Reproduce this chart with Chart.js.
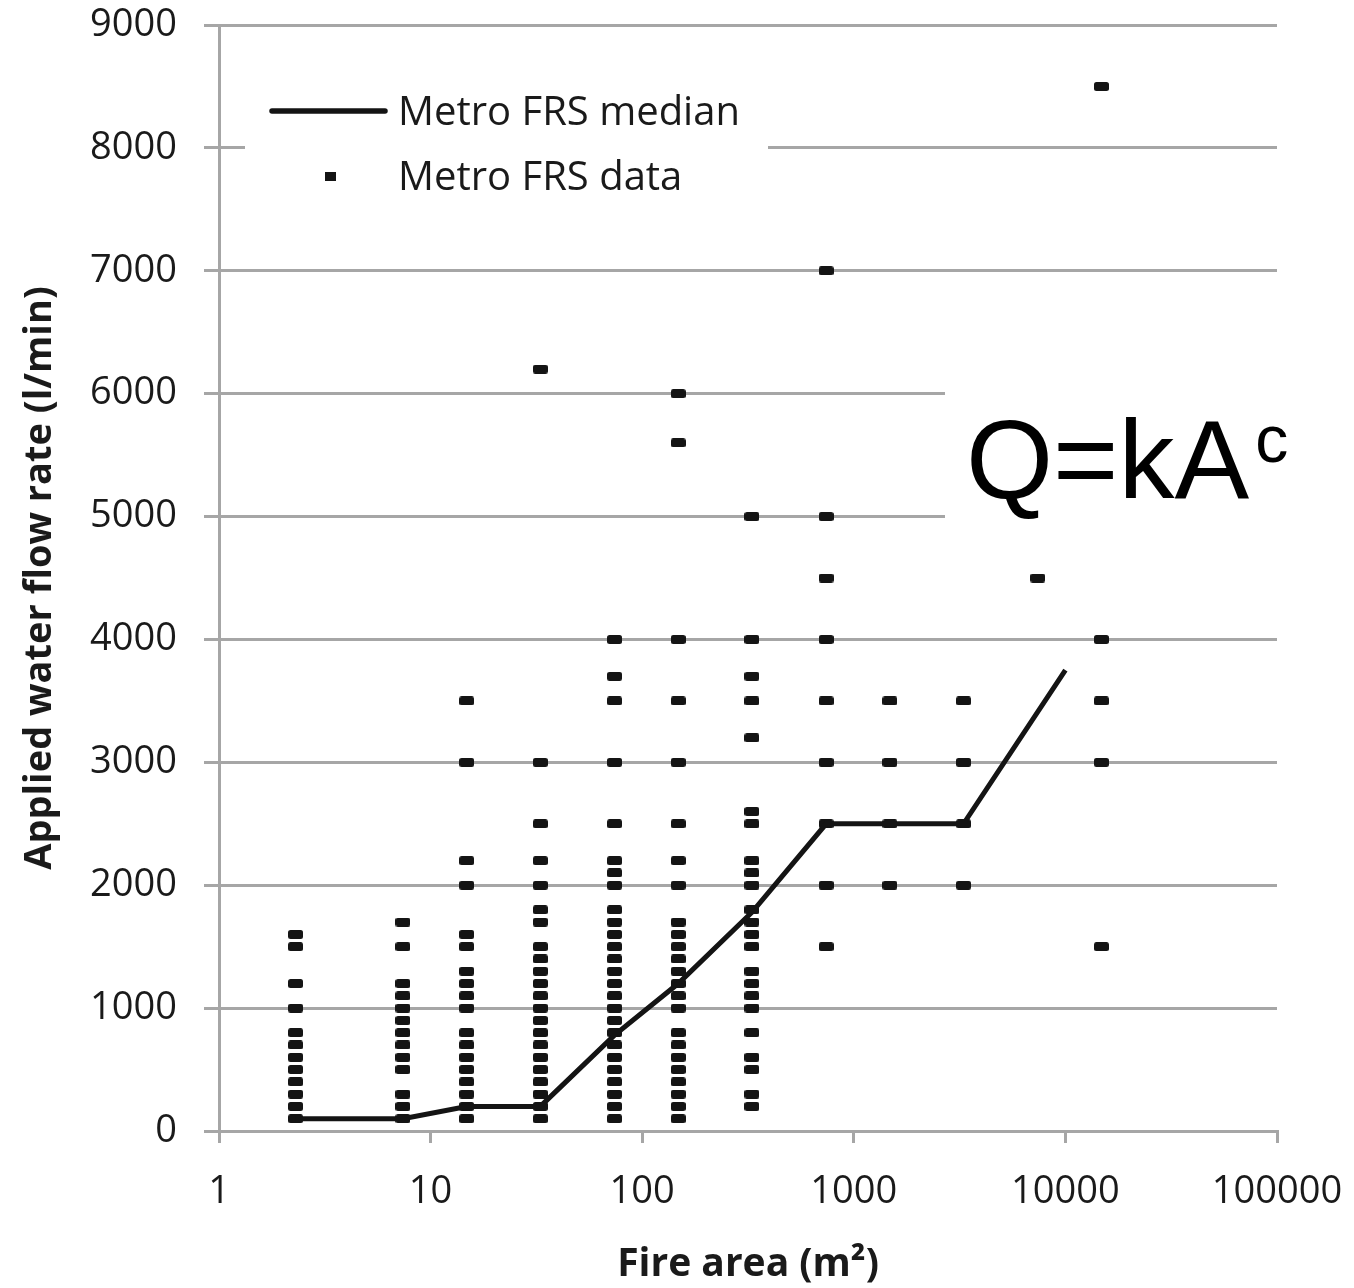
<!DOCTYPE html>
<html>
<head>
<meta charset="utf-8">
<title>Applied water flow rate vs fire area</title>
<script src="https://cdn.jsdelivr.net/npm/chart.js@4.4.1/dist/chart.umd.min.js"></script>
<style>
    html, body { margin: 0; padding: 0; background: #ffffff; }
    canvas { display: block; }
</style>
</head>
<body>
<canvas id="flowChart" width="1354" height="1288"></canvas>
<script>
// Fire area classes (m2), one column of points for each
const areaBins = [2.3, 7.4, 14.8, 33, 74, 148, 330, 740, 1480, 3300, 7400, 14800];

// Applied water flow rates (l/min) recorded in each area class
const flowsBin1 = [100, 200, 300, 400, 500, 600, 700, 800, 1000, 1200, 1500, 1600];
const flowsBin2 = [100, 200, 300, 500, 600, 700, 800, 900, 1000, 1100, 1200, 1500, 1700];
const flowsBin3 = [100, 200, 300, 400, 500, 600, 700, 800, 1000, 1100, 1200, 1300, 1500, 1600, 2000, 2200, 3000, 3500];
const flowsBin4 = [100, 200, 300, 400, 500, 600, 700, 800, 900, 1000, 1100, 1200, 1300, 1400, 1500, 1700, 1800, 2000, 2200, 2500, 3000, 6200];
const flowsBin5 = [100, 200, 300, 400, 500, 600, 700, 800, 900, 1000, 1100, 1200, 1300, 1400, 1500, 1600, 1700, 1800, 2000, 2100, 2200, 2500, 3000, 3500, 3700, 4000];
const flowsBin6 = [100, 200, 300, 400, 500, 600, 700, 800, 1000, 1100, 1200, 1300, 1400, 1500, 1600, 1700, 2000, 2200, 2500, 3000, 3500, 4000, 5600, 6000];
const flowsBin7 = [200, 300, 500, 600, 800, 1000, 1100, 1200, 1300, 1500, 1600, 1700, 1800, 2000, 2100, 2200, 2500, 2600, 3200, 3500, 3700, 4000, 5000];
const flowsBin8 = [1500, 2000, 2500, 3000, 3500, 4000, 4500, 5000, 7000];
const flowsBin9 = [2000, 2500, 3000, 3500];
const flowsBin10 = [2000, 2500, 3000, 3500];
const flowsBin11 = [4500];
const flowsBin12 = [1500, 3000, 3500, 4000, 8500];
const flowsByBin = [flowsBin1, flowsBin2, flowsBin3, flowsBin4, flowsBin5, flowsBin6,
    flowsBin7, flowsBin8, flowsBin9, flowsBin10, flowsBin11, flowsBin12];

// Median line
const medianAreas = [2.3, 7.4, 14.8, 33, 74, 148, 330, 740, 1480, 3300, 10000];
const medianFlows = [100, 100, 200, 200, 780, 1200, 1780, 2500, 2500, 2500, 3750];

// Axis ticks
const xTickValues = [1, 10, 100, 1000, 10000, 100000];
const yMin = 0;
const yMax = 9000;
const yStep = 1000;

const fontFamily = '"Open Sans", "Noto Sans", sans-serif';
const textColor = '#1a1a1a';
const gridColor = '#a6a6a6';
const markColor = '#141414';

// small rounded dash used as the data marker
function makeDash(w, h) {
    const c = document.createElement('canvas');
    c.width = w;
    c.height = h;
    const g = c.getContext('2d');
    g.fillStyle = markColor;
    g.beginPath();
    if (g.roundRect) {
        g.roundRect(0, 0, w, h, 2.5);
    } else {
        g.rect(0, 0, w, h);
    }
    g.fill();
    return c;
}

const dataPoints = [];
areaBins.forEach((area, i) => {
    flowsByBin[i].forEach(q => dataPoints.push({ x: area, y: q }));
});
const medianPoints = medianAreas.map((a, i) => ({ x: a, y: medianFlows[i] }));

// keep the plot area where the layout padding puts it
function noLabelPadding(scale) {
    scale.paddingTop = 0;
    scale.paddingBottom = 0;
    scale.paddingLeft = 0;
    scale.paddingRight = 0;
}

// white boxes behind legend and formula, then legend and formula text
const overlayPlugin = {
    id: 'overlay',
    beforeDatasetsDraw(chart) {
        const { ctx, chartArea } = chart;
        ctx.save();
        ctx.fillStyle = '#ffffff';
        ctx.fillRect(chartArea.left + 26, chartArea.top + 35, 523, 155);
        ctx.fillRect(945, chartArea.top + 305, 409, 230);
        ctx.restore();
    },
    afterDraw(chart) {
        const { ctx, chartArea } = chart;
        const left = chartArea.left;
        const top = chartArea.top;
        ctx.save();

        // legend
        ctx.strokeStyle = markColor;
        ctx.lineWidth = 5.5;
        ctx.lineCap = 'round';
        ctx.beginPath();
        ctx.moveTo(left + 53, top + 86);
        ctx.lineTo(left + 166, top + 86);
        ctx.stroke();
        ctx.fillStyle = markColor;
        ctx.fillRect(left + 106, top + 147, 11, 9);

        ctx.fillStyle = textColor;
        ctx.font = '40px ' + fontFamily;
        ctx.textAlign = 'left';
        ctx.textBaseline = 'alphabetic';
        ctx.fillText('Metro FRS median', left + 179, top + 100);
        ctx.fillText('Metro FRS data', left + 179, top + 165);

        // formula
        ctx.fillStyle = '#000000';
        ctx.font = '112px "Liberation Sans", Arial, sans-serif';
        const base = 'Q=kA';
        ctx.fillText(base, 966, 498);
        const w = ctx.measureText(base).width;
        ctx.font = '66px "Liberation Sans", Arial, sans-serif';
        ctx.fillText('c', 966 + w + 6, 462);

        ctx.restore();
    }
};

const ctx = document.getElementById('flowChart');

new Chart(ctx, {
    type: 'scatter',
    data: {
        datasets: [
            {
                label: 'Metro FRS median',
                data: medianPoints,
                showLine: true,
                borderColor: markColor,
                backgroundColor: markColor,
                borderWidth: 5,
                pointRadius: 0,
                tension: 0,
                order: 0
            },
            {
                label: 'Metro FRS data',
                data: dataPoints,
                pointStyle: makeDash(15, 9),
                pointRadius: 7,
                order: 1
            }
        ]
    },
    options: {
        responsive: false,
        animation: false,
        devicePixelRatio: 1,
        events: [],
        layout: {
            padding: { left: 0, top: 25, right: 77, bottom: 0 }
        },
        plugins: {
            legend: { display: false },
            tooltip: { enabled: false }
        },
        scales: {
            x: {
                type: 'logarithmic',
                min: xTickValues[0],
                max: xTickValues[xTickValues.length - 1],
                afterBuildTicks: scale => {
                    scale.ticks = xTickValues.map(v => ({ value: v }));
                },
                afterFit: scale => {
                    scale.height = 157;
                    noLabelPadding(scale);
                },
                grid: {
                    drawOnChartArea: false,
                    drawTicks: true,
                    tickLength: 12,
                    color: gridColor,
                    lineWidth: 3
                },
                border: { color: gridColor, width: 3 },
                ticks: {
                    autoSkip: false,
                    maxRotation: 0,
                    padding: 26,
                    color: textColor,
                    font: { family: fontFamily, size: 38 },
                    callback: value => String(value)
                },
                title: {
                    display: true,
                    text: 'Fire area (m²)',
                    color: textColor,
                    font: { family: fontFamily, size: 39, weight: 'bold' },
                    padding: { top: 0, bottom: 0 }
                }
            },
            y: {
                min: yMin,
                max: yMax,
                afterFit: scale => {
                    scale.width = 219;
                    noLabelPadding(scale);
                },
                grid: {
                    color: gridColor,
                    lineWidth: 3,
                    drawTicks: true,
                    tickLength: 15
                },
                border: { color: gridColor, width: 3 },
                ticks: {
                    stepSize: yStep,
                    padding: 27,
                    color: textColor,
                    font: { family: fontFamily, size: 38 },
                    callback: value => String(value)
                },
                title: {
                    display: true,
                    text: 'Applied water flow rate (l/min)',
                    color: textColor,
                    font: { family: fontFamily, size: 38, weight: 'bold' },
                    padding: { top: 17, bottom: 0 }
                }
            }
        }
    },
    plugins: [overlayPlugin]
});
</script>
</body>
</html>
